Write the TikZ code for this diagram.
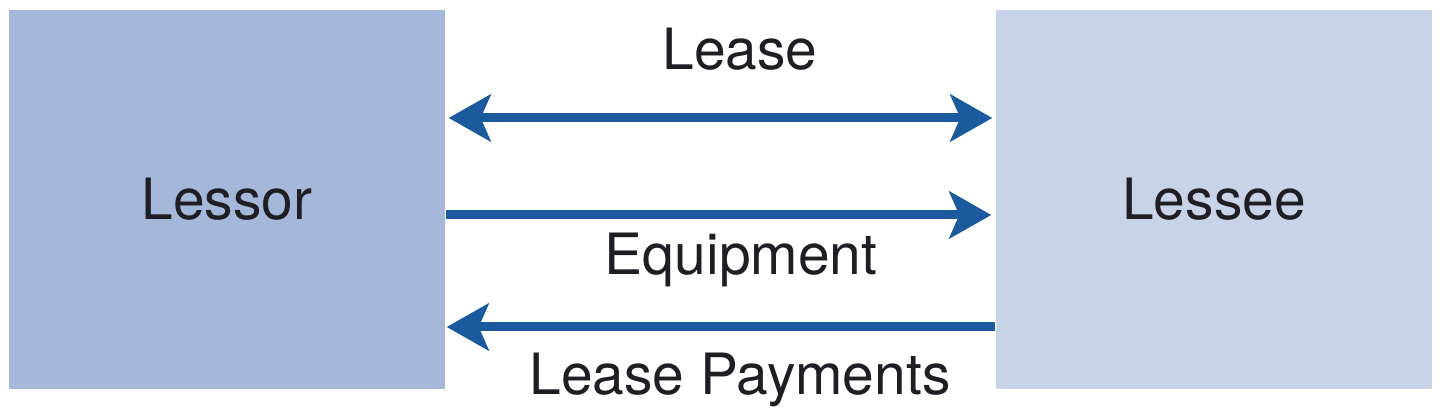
\documentclass[tikz,border=0pt]{standalone}
\usepackage{fontspec}
\setmainfont{TeX Gyre Heros}
\usetikzlibrary{arrows.meta,calc}
\definecolor{lessorblue}{HTML}{A6B8D9}
\definecolor{lesseeblue}{HTML}{C9D3E7}
\definecolor{flowblue}{HTML}{1B5A9C}
\definecolor{inkgray}{HTML}{1E1E24}
\tikzstyle{party}=[draw=none,inner sep=0pt,minimum width=4.36cm,minimum height=3.79cm,text=inkgray,font=\fontsize{16.2}{19}\selectfont]
\tikzstyle{flow}=[draw=flowblue,line width=0.09cm,-{Stealth[length=0.42cm,width=0.47cm,inset=0.1cm]}]
\tikzstyle{flowlabel}=[anchor=base,inner sep=0pt,text=inkgray,font=\fontsize{16.2}{19}\selectfont]
\begin{document}
\begin{tikzpicture}
	\useasboundingbox (0,0) rectangle (14.4,4.14);
	\node[party,fill=lessorblue] (lessor) at (2.27,2.145) {Lessor};
	\node[party,fill=lesseeblue] (lessee) at (12.14,2.145) {Lessee};
	% lease agreement, both ways
	\draw[flow,{Stealth[length=0.42cm,width=0.47cm,inset=0.1cm]}-{Stealth[length=0.42cm,width=0.47cm,inset=0.1cm]},shorten <=0.03cm,shorten >=0.03cm] (lessor.east |- 0,2.96) -- (lessee.west |- 0,2.96);
	\node[flowlabel] (lease) at (7.40,3.44) {Lease};
	% equipment goes to lessee
	\draw[flow,shorten >=0.04cm] (lessor.east |- 0,1.99) -- (lessee.west |- 0,1.99);
	\node[flowlabel] (equipment) at (7.41,1.39) {Equipment};
	% payments go back
	\draw[flow,shorten >=0.01cm] (lessee.west |- 0,0.87) -- (lessor.east |- 0,0.87);
	\node[flowlabel] (payments) at (7.40,0.19) {Lease Payments};
\end{tikzpicture}
\end{document}
